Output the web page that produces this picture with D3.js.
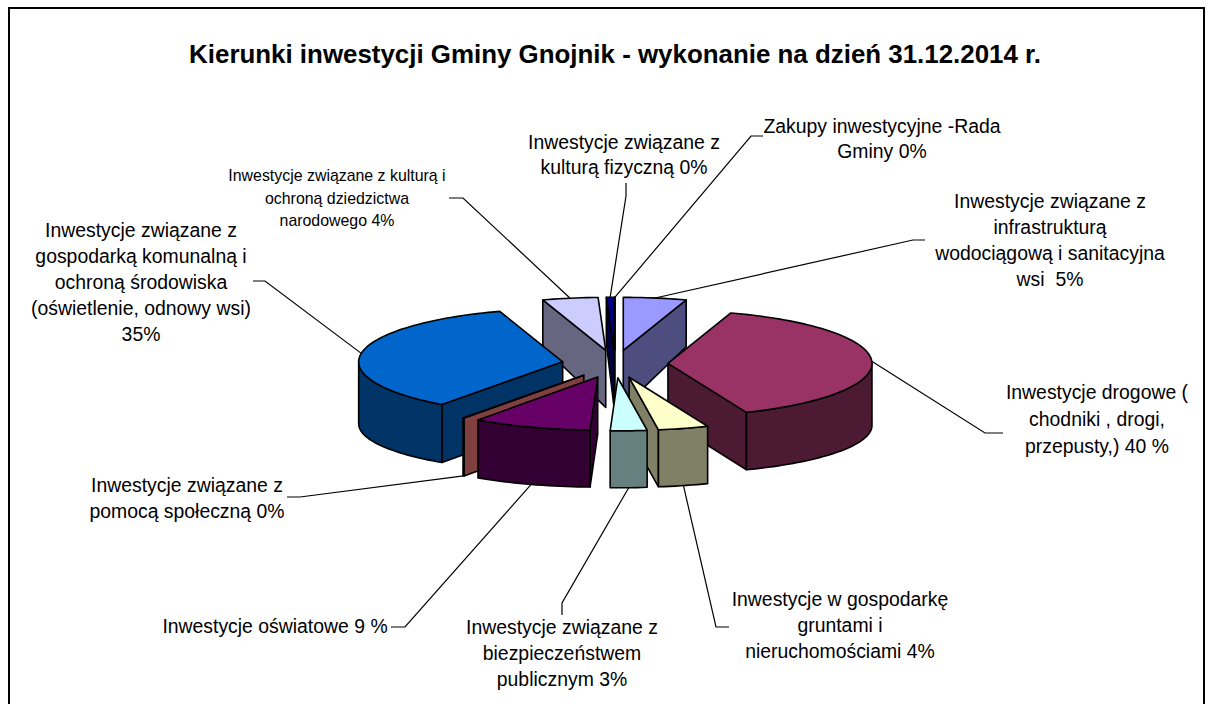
<!DOCTYPE html>
<html>
<head>
<meta charset="utf-8">
<script src="https://cdn.jsdelivr.net/npm/d3@7"></script>
<style>
  html, body { margin: 0; padding: 0; background: #fff; overflow: hidden; }
  text { font-family: "Liberation Sans", Arial, sans-serif; fill: #000; white-space: pre; }
</style>
</head>
<body>
<div id="chart"></div>
<script>
const titleText = 'Kierunki inwestycji Gminy Gnojnik - wykonanie na dzień 31.12.2014 r.'

// Slices clockwise from 12 o'clock, percent
const categories = ['wodociagi', 'drogi', 'grunty', 'bezpieczenstwo', 'oswiata', 'pomoc', 'komunalna', 'kultura', 'sport', 'rada']
const values = [5.0, 38.8, 4.0, 2.9, 9.4, 0.1, 35.0, 4.4, 0.6, 0.0]
const topColours = ['#9999ff', '#993366', '#ffffcc', '#ccffff', '#660066', '#ff8080', '#0066cc', '#ccccff', '#000080', '#ff00ff']
const sideColours = ['#4d4d80', '#4d1a33', '#808066', '#668080', '#330033', '#804040', '#003366', '#666680', '#000040', '#800080']

const labelLines = [
  ['Inwestycje związane z', 'infrastrukturą', 'wodociągową i sanitacyjna', 'wsi  5%'],
  ['Inwestycje drogowe (', 'chodniki , drogi,', 'przepusty,) 40 %'],
  ['Inwestycje w gospodarkę', 'gruntami i', 'nieruchomościami 4%'],
  ['Inwestycje związane z', 'biezpieczeństwem', 'publicznym 3%'],
  ['Inwestycje oświatowe 9 %'],
  ['Inwestycje związane z', 'pomocą społeczną 0%'],
  ['Inwestycje związane z', 'gospodarką komunalną i', 'ochroną środowiska', '(oświetlenie, odnowy wsi)', '35%'],
  ['Inwestycje związane z kulturą i', 'ochroną dziedzictwa', 'narodowego 4%'],
  ['Inwestycje związane z', 'kulturą fizyczną 0%'],
  ['Zakupy inwestycyjne -Rada', 'Gminy 0%']
]

// Label layout: centre x, first baseline, line step, font size
const labelX = [1050, 1097, 840, 562, 275, 187, 141, 337, 624, 882]
const labelY = [208, 399, 606, 634, 633, 492, 237, 181, 149, 133]
const labelStep = [26, 27, 26, 26, 26, 26, 26, 22.5, 25, 25]
const labelSize = [19.4, 19.4, 19.4, 19.4, 19.4, 19.4, 19.4, 15.9, 19.4, 19.4]
// Leader lines run anchor -> elbow -> end
const elbows = [[913, 240], [985, 433], [716, 627], [562, 603], [405, 627], [300, 497], [265, 281], [463, 198], [626, 196], [751, 136]]
const leaderEnds = [[925, 240], [1003, 433], [729, 627], [562, 615], [391, 627], [287, 497], [253, 281], [449, 198], [626, 183], [763, 136]]

const width = 1215
const height = 704
const margin = {left: 9, right: 11, top: 8}

const cx = 615
const cy = 364
const radius = 204
const tilt = 0.26
const explode = 53
const apexDepth = 57

const svg = d3.select('#chart')
  .append('svg')
  .attr('width', width)
  .attr('height', height)

// Frame runs off the bottom of the page
svg.append('path')
  .attr('d', `M${margin.left},${height + 5}V${margin.top}H${width - margin.right}V${height + 5}`)
  .style('fill', 'none')
  .style('stroke', '#000')
  .style('stroke-width', 2)

svg.append('text')
  .attr('x', 615)
  .attr('y', 63)
  .style('text-anchor', 'middle')
  .style('font-size', '25.9px')
  .style('font-weight', 'bold')
  .text(titleText)

const pie = d3.pie().sort(null).value(d => d.value)
const slices = pie(categories.map((c, i) => ({key: c, value: values[i], index: i})))

// Projection of a point on the tilted disc
function project(angle, r) {
  return [r * Math.sin(angle), -r * tilt * Math.cos(angle)]
}
// Wall height shrinks a little towards the back (the original has some perspective)
function depthAt(angle) {
  const c = Math.cos(angle)
  return c >= 0 ? 62 - 16 * c : 62 - 5 * -c
}

const linePath = d3.line()

slices.forEach(s => {
  s.mid = (s.startAngle + s.endAngle) / 2
  const off = project(s.mid, explode)
  s.apex = [cx + off[0], cy + off[1]]
})

function rimPoint(s, angle, down) {
  const p = project(angle, radius)
  return [s.apex[0] + p[0], s.apex[1] + p[1] + (down ? depthAt(angle) : 0)]
}
function arcPoints(s, a0, a1, down) {
  const n = Math.max(2, Math.ceil((a1 - a0) / 0.03))
  return d3.range(n + 1).map(i => rimPoint(s, a0 + (a1 - a0) * i / n, down))
}
function radialWall(s, angle) {
  const top = rimPoint(s, angle, false)
  const bottom = rimPoint(s, angle, true)
  return [s.apex, top, bottom, [s.apex[0], s.apex[1] + apexDepth]]
}

function addFace(g, pts, fill) {
  g.append('path')
    .attr('d', linePath(pts) + 'Z')
    .style('fill', fill)
    .style('stroke', '#000')
    .style('stroke-width', 1.6)
    .style('stroke-linejoin', 'round')
}

// Back slices first
const ordered = slices.slice().sort((a, b) => Math.cos(b.mid) - Math.cos(a.mid))
const gPie = svg.append('g')

ordered.forEach(s => {
  const side = sideColours[s.data.index]
  const g = gPie.append('g').attr('class', s.data.key)
  // Only the walls that face the viewer
  if (Math.sin(s.startAngle) < 0) addFace(g, radialWall(s, s.startAngle), side)
  if (Math.sin(s.endAngle) > 0) addFace(g, radialWall(s, s.endAngle), side)
  const a0 = Math.max(s.startAngle, Math.PI / 2)
  const a1 = Math.min(s.endAngle, Math.PI * 1.5)
  if (a1 > a0) {
    addFace(g, arcPoints(s, a0, a1, false).concat(arcPoints(s, a0, a1, true).reverse()), side)
  }
  addFace(g, [s.apex].concat(arcPoints(s, s.startAngle, s.endAngle, false)), topColours[s.data.index])
})

// Leader lines start on the rim at each slice's middle
slices.forEach(s => {
  const i = s.data.index
  const anchor = rimPoint(s, s.mid, Math.cos(s.mid) < -0.1)
  svg.append('path')
    .attr('d', linePath([anchor, elbows[i], leaderEnds[i]]))
    .style('fill', 'none')
    .style('stroke', '#000')
    .style('stroke-width', 1.2)
})

labelLines.forEach((lines, i) => {
  const t = svg.append('text')
    .style('font-size', `${labelSize[i]}px`)
    .style('text-anchor', 'middle')
  lines.forEach((line, j) => {
    t.append('tspan')
      .attr('x', labelX[i])
      .attr('y', labelY[i] + j * labelStep[i])
      .text(line)
  })
})
</script>
</body>
</html>
